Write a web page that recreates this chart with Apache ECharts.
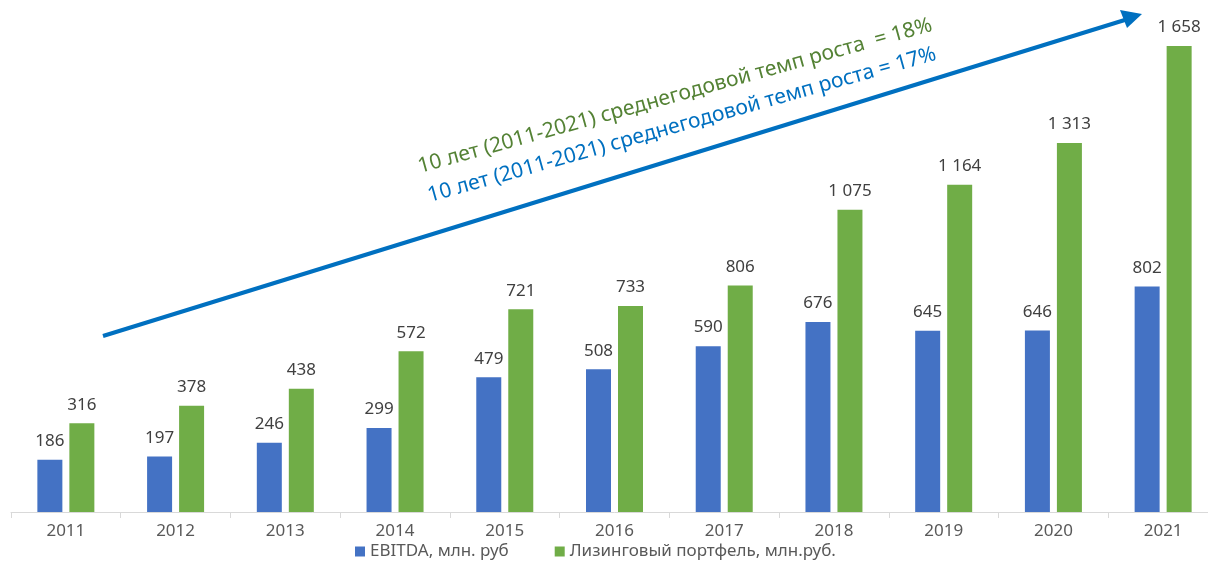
<!DOCTYPE html>
<html><head><meta charset="utf-8">
<script src="https://cdn.jsdelivr.net/npm/echarts@6/dist/echarts.min.js"></script>
<style>html,body{margin:0;padding:0;background:#fff;overflow:hidden;width:1208px;height:565px}#c{width:1219px;height:565px}</style>
</head><body><div id="c"></div>
<script>
const years = ['2011','2012','2013','2014','2015','2016','2017','2018','2019','2020','2021'];
const ebitda = [186,197,246,299,479,508,590,676,645,646,802];
const portfolio = [316,378,438,572,721,733,806,1075,1164,1313,1658];
const seriesNames = ['EBITDA, млн. руб','Лизинговый портфель, млн.руб.'];
const noteGreen = '10 лет (2011-2021) среднегодовой темп роста  = 18%';
const noteBlue = '10 лет (2011-2021) среднегодовой темп роста = 17%';

const fmt = v => String(v).replace(/\B(?=(\d{3})+(?!\d))/g, ' ');
const chart = echarts.init(document.getElementById('c'));
const lbl = {show:true, position:'top', distance:10, color:'#404040', fontSize:17, fontFamily:'Noto Sans', formatter:p=>fmt(p.value)};
chart.setOption({
  animation:false,
  grid:{left:11, right:1, top:6, bottom:53, containLabel:false},
  legend:{bottom:0, left:350, itemWidth:10, itemHeight:10, itemGap:46, icon:'rect',
    textStyle:{color:'#595959', fontSize:17, fontFamily:'Noto Sans'}},
  xAxis:{type:'category', data:years,
    axisLine:{lineStyle:{color:'#d9d9d9', width:1}},
    axisTick:{show:true, length:6, lineStyle:{color:'#d9d9d9'}},
    axisLabel:{color:'#595959', fontSize:17, fontFamily:'Noto Sans', margin:11}},
  yAxis:{type:'value', min:0, max:1800, show:false, splitLine:{show:false}},
  series:[
    {name:seriesNames[0], type:'bar', data:ebitda, barWidth:25, barGap:'28%', itemStyle:{color:'#4472C4'}, label:lbl},
    {name:seriesNames[1], type:'bar', data:portfolio, barWidth:25, itemStyle:{color:'#70AD47'}, label:lbl}
  ],
  graphic:[
    {type:'line', shape:{x1:103, y1:336, x2:1128, y2:19}, style:{stroke:'#0070C0', lineWidth:4}},
    {type:'polygon', shape:{points:[[1142,14],[1120,10],[1127,28]]}, style:{fill:'#0070C0'}},
    {type:'text', x:675, y:96, rotation:15.5*Math.PI/180, style:{text:noteGreen, fill:'#548235', fontSize:21, fontFamily:'Noto Sans', align:'center', verticalAlign:'middle'}},
    {type:'text', x:682, y:125, rotation:15.7*Math.PI/180, style:{text:noteBlue, fill:'#0070C0', fontSize:21, fontFamily:'Noto Sans', align:'center', verticalAlign:'middle'}}
  ]
});
</script></body></html>
